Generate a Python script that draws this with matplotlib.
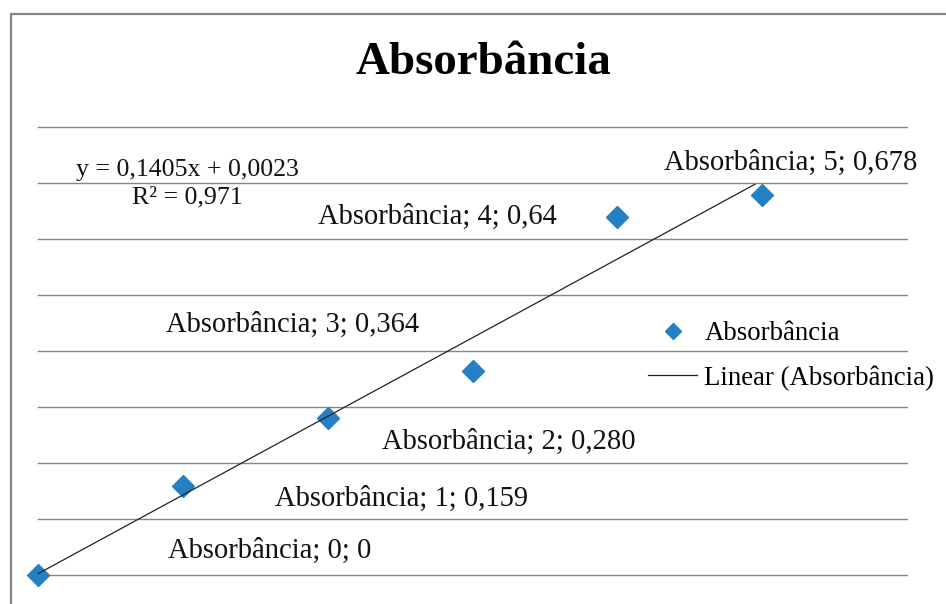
import numpy as np
import matplotlib
matplotlib.use("Agg")
import matplotlib.pyplot as plt
from matplotlib.lines import Line2D
from matplotlib.patches import Rectangle

plt.rcParams['font.family'] = ['Liberation Serif', 'DejaVu Serif']

series_name = "Absorbância"
x_values = [0, 1, 2, 3, 4, 5]
y_values = [0, 0.159, 0.280, 0.364, 0.64, 0.678]
label_values = ["0", "0,159", "0,280", "0,364", "0,64", "0,678"]
title = "Absorbância"

W, H = 946, 604
fig = plt.figure(figsize=(W / 100, H / 100), dpi=100)
ax = fig.add_axes([38 / W, 1 - 575 / H, (907 - 38) / W, (575 - 127) / H])

ax.set_xlim(0, 6)
ax.set_ylim(0, 0.8)
for s in ax.spines.values():
    s.set_visible(False)
ax.set_xticks([])
ax.set_yticks(np.arange(0, 0.81, 0.1))
ax.tick_params(left=False, labelleft=False)
ax.yaxis.grid(True, color='#868686', lw=1.0)
for gl in ax.get_ygridlines():
    gl.set_clip_on(False)
ax.set_axisbelow(True)
ax.patch.set_alpha(0)

blue = '#2580C3'
ax.plot(x_values, y_values, linestyle='none', marker='D', ms=11.5,
        color=blue, mec=blue, zorder=3, clip_on=False)

slope, intercept = np.polyfit(x_values, y_values, 1)
pred = np.polyval([slope, intercept], x_values)
r2 = 1 - np.sum((np.array(y_values) - pred) ** 2) / np.sum((np.array(y_values) - np.mean(y_values)) ** 2)
xt = np.array([x_values[0], x_values[-1] - 0.05])
ax.plot(xt, slope * xt + intercept, color='#222222', lw=0.9, zorder=4, clip_on=False)

offsets = [(232, 24), (219, -13), (181, -24), (-180, 46), (-180, 0), (29, 33)]
for i, (xv, yv, lab) in enumerate(zip(x_values, y_values, label_values)):
    txt = f"{series_name}; {xv}; {lab}"
    kw = {}
    if i == 5:
        kw['bbox'] = dict(facecolor='white', edgecolor='none', pad=1)
    ax.annotate(txt, (xv, yv), xytext=offsets[i], textcoords='offset pixels',
                ha='center', va='center', fontsize=20.6, color='#111111',
                zorder=5, annotation_clip=False, **kw)

def fmt(v, nd):
    return f"{v:.{nd}f}".replace('.', ',')

fig.text(187 / W, 1 - 170 / H, f"y = {fmt(slope, 4)}x + {fmt(intercept, 4)}",
         ha='center', va='center', fontsize=18.6, color='#111111')
fig.text(187 / W, 1 - 197 / H, f"R² = {fmt(r2, 3)}",
         ha='center', va='center', fontsize=18.6, color='#111111')

fig.text(483 / W, 1 - 63 / H, title, ha='center', va='center',
         fontsize=33.8, fontweight='bold', color='black')

handles = [Line2D([], [], linestyle='none', marker='D', ms=8.5, color=blue),
           Line2D([], [], color='#222222', lw=0.9)]
leg = fig.legend(handles, [series_name, f"Linear ({series_name})"],
                 loc='center left', bbox_to_anchor=(648 / W, 1 - 356 / H),
                 frameon=False, fontsize=19.3, handlelength=1.83, handletextpad=0.27,
                 labelspacing=0.72, borderaxespad=0, borderpad=0)

fig.patches.append(Rectangle((11 / W, -0.1), 1.2, 1.1 - 14 / H,
                             transform=fig.transFigure, fill=False,
                             edgecolor='#868686', lw=1.6))

fig.savefig('out.png', dpi=100)
